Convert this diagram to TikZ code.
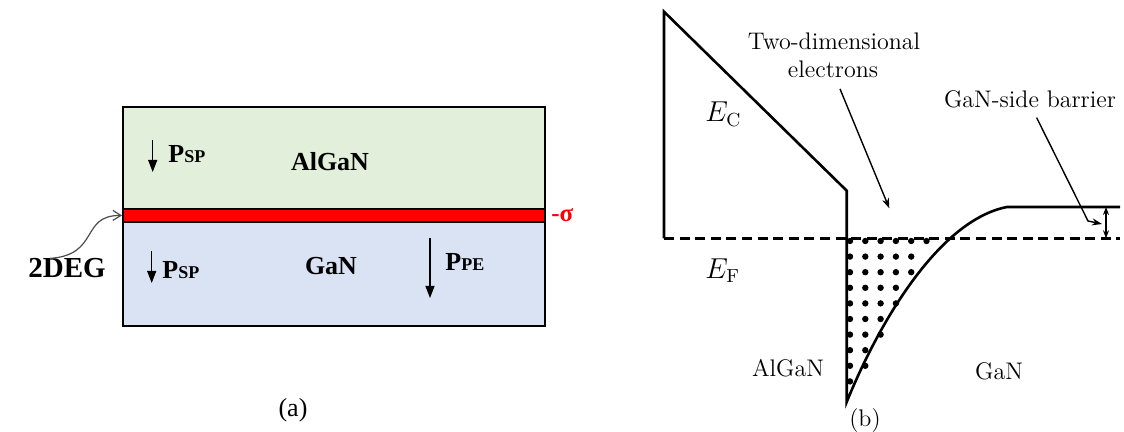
\documentclass[tikz,border=0pt]{standalone}
\usepackage{fontspec}
\newfontfamily\tnr{Liberation Serif}
\usetikzlibrary{arrows.meta,positioning}
\definecolor{alganfill}{RGB}{226,239,218}
\definecolor{ganfill}{RGB}{218,227,243}
\definecolor{sheetred}{RGB}{255,0,0}
\newcommand\polsub[1]{{\fontsize{9}{10}\selectfont #1}}

\begin{document}
\begin{tikzpicture}[x=0.5pt,y=-0.5pt,
  boldlbl/.style={font=\tnr\bfseries\fontsize{13}{15}\selectfont, inner sep=0pt, anchor=base},
  plbl/.style={font=\tnr\bfseries\fontsize{13}{15}\selectfont, inner sep=0pt, anchor=base west},
  parrow/.style={line width=0.6pt, -{Triangle[length=6pt,width=4.5pt]}},
  bandlbl/.style={font=\fontsize{12}{14}\selectfont, inner sep=0pt, anchor=base},
  band/.style={line width=1.3pt, line join=miter},
  thinarrow/.style={line width=0.7pt, -{Stealth[length=5pt,width=3.5pt]}}]
\useasboundingbox (0,0) rectangle (1124,432);
% (a) layers
\fill[alganfill] (123,107) rectangle (545,209);
\fill[sheetred] (123,209) rectangle (545,222);
\fill[ganfill] (123,222) rectangle (545,326);
\draw[line width=1pt] (123,107) rectangle (545,326);
\draw[line width=1pt] (123,209) -- (545,209) (123,222) -- (545,222);
\coordinate (sheet) at (122,215.5);
% (a) polarization
\coordinate (psp1top) at (152.7,140);
\coordinate (psp1bot) at (152.7,172);
\coordinate (psp2top) at (151.7,251);
\coordinate (psp2bot) at (151.7,283);
\coordinate (ppetop) at (430,238);
\coordinate (ppebot) at (430,298);
\draw[parrow] (psp1top) -- (psp1bot);
\draw[parrow] (psp2top) -- (psp2bot);
\draw[parrow] (ppetop) -- (ppebot);
\node[plbl] (psp1) at (168,163) {P\polsub{SP}};
\node[plbl] (psp2) at (162,279) {P\polsub{SP}};
\node[plbl] (ppe) at (445,271) {P\polsub{PE}};
% (a) labels
\node[boldlbl] (algan) at (330,171) {AlGaN};
\node[boldlbl] (gan) at (331,275) {GaN};
\node[boldlbl, text=sheetred, anchor=base west, font=\tnr\bfseries\fontsize{12.5}{15}\selectfont] (sigma) at (551,221.7) {-σ};
\node[boldlbl, font=\tnr\bfseries\fontsize{14.5}{16}\selectfont] (deg) at (67,278) {2DEG};
\draw[gray!60!black, line width=0.6pt, -{Straight Barb[length=4pt,width=5pt]}]
  ([xshift=-8.5pt]deg.north) .. controls (100,255) and (80,215) .. (sheet);
\node[anchor=base, inner sep=0pt, font=\tnr\fontsize{13}{15}\selectfont] (capa) at (293,416) {(a)};
% (b) band edges
\draw[band] (664,238.3) -- (664,11.7) -- (846.7,190.7) -- (846.7,402)
  .. controls (880,320) and (940,220) .. (1007,207) -- (1120,207);
\draw[line width=1.3pt, dash pattern=on 5pt off 2.8pt] (664,238.3) -- (1120,238.3);
% (b) electrons in the well
\foreach \n [count=\r from 0] in {6,5,5,4,4,3,3,2,2,1}
  \foreach \c in {1,...,\n}
    \fill ({850+15.3*(\c-1)},{241+15.6*\r}) circle[radius=3.2];
% (b) labels
\node[bandlbl] (twodim) at (834,49.3) {Two-dimensional};
\node[bandlbl] (electrons) at (833,77.3) {electrons};
\node[bandlbl] (barrier) at (1030,107.3) {GaN-side barrier};
\node[bandlbl, anchor=base west, font=\fontsize{13.5}{15}\selectfont] (ec) at (705,121.7) {$E_{\mathrm{C}}$};
\node[bandlbl, anchor=base west, font=\fontsize{13.5}{15}\selectfont] (ef) at (705,278.3) {$E_{\mathrm{F}}$};
\node[bandlbl] (alganb) at (788,376.7) {AlGaN};
\node[bandlbl] (ganb) at (999,380) {GaN};
\node[bandlbl] (capb) at (865,426.7) {(b)};
% (b) pointers
\coordinate (welltip) at (889.3,208.3);
\coordinate (barrierbend) at (1088,221);
\coordinate (barriertip) at (1102,224);
\coordinate (ectop) at (1106,207);
\coordinate (efbot) at (1106,238.3);
\draw[thinarrow] ([xshift=3.5pt,yshift=-5.5pt]electrons.south) -- (welltip);
\draw[thinarrow] ([xshift=3.3pt,yshift=-4.7pt]barrier.south) -- (barrierbend) -- (barriertip);
\draw[line width=0.6pt, {Stealth[length=4pt,width=3pt]}-{Stealth[length=4pt,width=3pt]}] (ectop) -- (efbot);
\end{tikzpicture}
\end{document}
